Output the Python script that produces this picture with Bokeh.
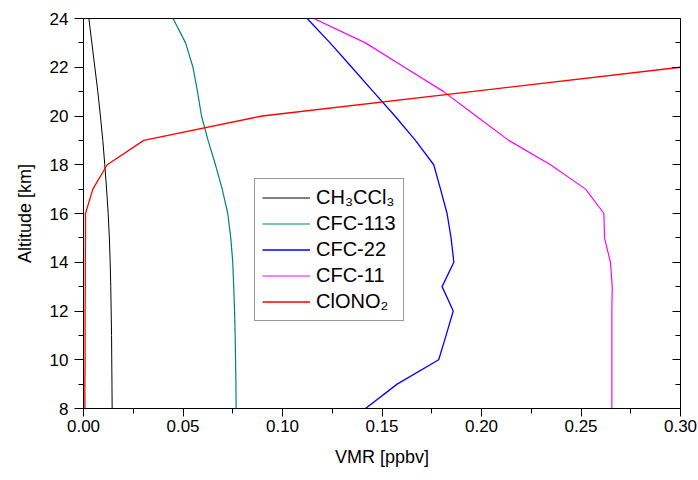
from bokeh.plotting import figure
from bokeh.models import (Range1d, LinearAxis, FixedTicker, NumeralTickFormatter,
                          Legend, LegendItem, CustomJSTickFormatter)
from bokeh.embed import file_html
from bokeh.resources import INLINE

# ---- data ----
altitude = [8, 9, 10, 11, 12, 13, 14, 15, 16, 17, 18, 19, 20, 21, 22, 23, 24]
ch3ccl3 = [0.0144, 0.0143, 0.0142, 0.0141, 0.0139, 0.0137, 0.0134, 0.0130, 0.0124,
           0.0116, 0.0107, 0.0097, 0.0085, 0.0072, 0.0057, 0.0042, 0.0027]
cfc113 = [0.0767, 0.0766, 0.0764, 0.0762, 0.0759, 0.0755, 0.0750, 0.0740, 0.0725,
          0.0697, 0.0663, 0.0626, 0.0593, 0.0573, 0.0550, 0.0513, 0.0450]
cfc22 = [0.1417, 0.1576, 0.1785, 0.1822, 0.1858, 0.1802, 0.1861, 0.1847, 0.1827,
         0.1794, 0.1760, 0.1668, 0.1565, 0.1456, 0.1348, 0.1239, 0.1124]
cfc11 = [0.2655, 0.2655, 0.2655, 0.2655, 0.2655, 0.2657, 0.2648, 0.2618, 0.2615,
         0.2523, 0.2347, 0.2137, 0.1973, 0.1810, 0.1613, 0.1417, 0.1157]
clono2_alt = [8, 9, 10, 11, 12, 13, 14, 15, 16, 17, 18, 19, 20, 21, 22]
clono2 = [0.0007, 0.0007, 0.0008, 0.0008, 0.0008, 0.0009, 0.0009, 0.0010, 0.0010,
          0.0047, 0.0119, 0.0303, 0.0898, 0.1950, 0.3000]

x_ticks = [0.0, 0.05, 0.10, 0.15, 0.20, 0.25, 0.30]
x_minor = [0.025, 0.075, 0.125, 0.175, 0.225, 0.275]
y_ticks = [8, 10, 12, 14, 16, 18, 20, 22, 24]
y_minor = [9, 11, 13, 15, 17, 19, 21, 23]

labels = ["CH\u2083CCl\u2083", "CFC-113", "CFC-22", "CFC-11", "ClONO\u2082"]
colors = ["#000000", "#008080", "#0000FF", "#FF00FF", "#FF0000"]
widths = [1.0, 1.2, 1.3, 1.2, 1.3]

FONT = "Liberation Sans"

p = figure(width=698, height=480, output_backend="svg", toolbar_location=None,
           x_range=Range1d(0, 0.30), y_range=Range1d(8, 24),
           min_border_left=83, min_border_right=18, min_border_top=18, min_border_bottom=72)
p.background_fill_color = "white"
p.border_fill_color = "white"
p.outline_line_color = "#000000"
p.outline_line_width = 1
p.xgrid.visible = False
p.ygrid.visible = False

xa = p.xaxis[0]
xa.ticker = FixedTicker(ticks=x_ticks, minor_ticks=x_minor)
xa.formatter = NumeralTickFormatter(format="0.00")
xa.axis_label = "VMR [ppbv]"
ya = p.yaxis[0]
ya.ticker = FixedTicker(ticks=y_ticks, minor_ticks=y_minor)
ya.axis_label = "Altitude [km]"

for ax, tout, mout in ((xa, 8, 5), (ya, 9, 5)):
    ax.axis_line_color = "#000000"
    ax.major_tick_line_color = "#000000"
    ax.minor_tick_line_color = "#000000"
    ax.major_tick_out = tout
    ax.major_tick_in = 0
    ax.minor_tick_out = mout
    ax.minor_tick_in = 0
    ax.major_label_text_font = FONT
    ax.major_label_text_font_size = "17px"
    ax.major_label_text_color = "#000000"
    ax.axis_label_text_font = FONT
    ax.axis_label_text_font_size = "18px"
    ax.axis_label_text_font_style = "normal"
    ax.axis_label_text_color = "#000000"
xa.major_label_standoff = 3
xa.axis_label_standoff = 12
ya.major_label_standoff = 6
ya.axis_label_standoff = 12

# mirrored ticks on the right, pointing inward
ra = LinearAxis(ticker=FixedTicker(ticks=y_ticks, minor_ticks=y_minor),
                formatter=CustomJSTickFormatter(code="return ''"))
ra.axis_line_color = "#000000"
ra.major_tick_line_color = "#000000"
ra.minor_tick_line_color = "#000000"
ra.major_tick_in = 8
ra.major_tick_out = 0
ra.minor_tick_in = 5
ra.minor_tick_out = 0
ra.major_label_text_font_size = "0px"
ra.major_label_standoff = 0
p.add_layout(ra, "right")

series = [(ch3ccl3, altitude), (cfc113, altitude), (cfc22, altitude),
          (cfc11, altitude), (clono2, clono2_alt)]
items = []
for (xs, ys), lab, col, w in zip(series, labels, colors, widths):
    r = p.line(xs, ys, line_color=col, line_width=w)
    items.append(LegendItem(label=lab, renderers=[r]))

leg = Legend(items=items, location=(171, 87), margin=0, padding=7,
             spacing=3, label_height=23, glyph_height=23, glyph_width=48,
             label_standoff=6, label_text_font=FONT, label_text_font_size="20px",
             label_text_color="#000000", border_line_color="#333333",
             border_line_width=1.5, background_fill_color="white",
             background_fill_alpha=1.0)
p.add_layout(leg, "center")

open("out.html", "w").write(file_html(p, INLINE))
